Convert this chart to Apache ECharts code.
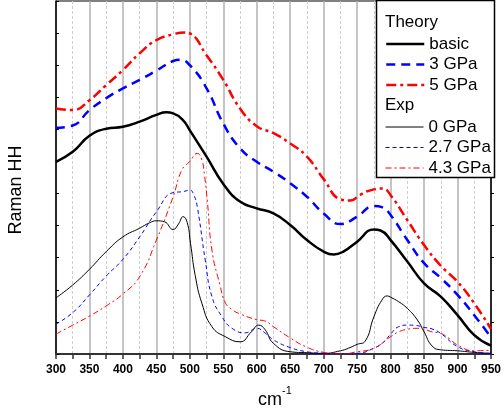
<!DOCTYPE html>
<html>
<head>
<meta charset="utf-8">
<script src="https://cdn.jsdelivr.net/npm/echarts@6/dist/echarts.min.js"></script>
<style>
  html, body { margin: 0; padding: 0; background: #fff; }
  #chart { width: 504px; height: 410px; }
</style>
</head>
<body>
<div id="chart"></div>
<script>
// Raman shift (cm^-1) sample positions and intensities for each spectrum

// Theory, basic
const basicX = [300, 325, 350, 375, 400, 425, 450, 465, 475, 490, 500, 525, 550, 575, 600, 625, 650, 675, 700, 715, 730, 750, 775, 785, 800, 825, 850, 875, 900, 925, 950];
const basicY = [5.99, 6.3, 6.8, 7.02, 7.08, 7.24, 7.45, 7.53, 7.5, 7.28, 6.97, 6.15, 5.3, 4.75, 4.54, 4.38, 4.02, 3.55, 3.19, 3.1, 3.2, 3.5, 3.88, 3.85, 3.55, 2.88, 2.2, 1.79, 1.21, 0.59, 0.26];

// Theory, 3 GPa
const t3X = [300, 325, 350, 375, 400, 425, 450, 475, 485, 500, 525, 550, 575, 600, 625, 650, 675, 700, 725, 750, 775, 788, 800, 825, 850, 875, 900, 925, 950];
const t3Y = [7.05, 7.12, 7.6, 7.97, 8.28, 8.54, 8.83, 9.13, 9.17, 9.0, 8.28, 7.18, 6.41, 5.99, 5.68, 5.32, 4.9, 4.38, 4.05, 4.28, 4.61, 4.57, 4.33, 3.55, 2.83, 2.37, 1.84, 1.21, 0.52];

// Theory, 5 GPa
const t5X = [300, 325, 350, 375, 400, 425, 450, 475, 492, 500, 525, 550, 575, 600, 625, 650, 675, 700, 725, 740, 755, 775, 788, 800, 825, 850, 875, 900, 925, 950];
const t5Y = [7.65, 7.6, 7.91, 8.38, 8.85, 9.37, 9.78, 9.96, 10.02, 9.99, 9.31, 8.54, 7.65, 7.1, 6.88, 6.56, 6.15, 5.45, 4.82, 4.78, 4.97, 5.13, 5.16, 4.95, 4.17, 3.4, 2.75, 2.25, 1.58, 0.78];

// Experiment, 0 GPa
const e0X = [300, 325, 350, 375, 400, 425, 440, 450, 462, 475, 483, 490, 496, 501, 508, 518, 533, 553, 575, 592, 603, 612, 625, 650, 675, 700, 725, 737, 750, 762, 775, 787, 795, 800, 812, 825, 840, 850, 862, 875, 900, 925, 950];
const e0Y = [1.75, 2.15, 2.64, 3.19, 3.65, 3.92, 4.09, 4.15, 4.12, 3.88, 4.05, 4.28, 4.1, 3.45, 2.45, 1.58, 0.85, 0.54, 0.38, 0.69, 0.9, 0.77, 0.33, 0.07, 0.04, 0.02, 0.1, 0.18, 0.3, 0.4, 1.16, 1.68, 1.81, 1.77, 1.63, 1.42, 1.06, 0.69, 0.25, 0.13, 0.1, 0.05, 0.02];

// Experiment, 2.7 GPa
const e27X = [300, 325, 350, 375, 400, 425, 450, 475, 490, 500, 506, 511, 523, 533, 548, 563, 583, 600, 612, 625, 650, 675, 700, 725, 750, 775, 790, 800, 812, 825, 837, 850, 862, 875, 900, 925, 950];
const e27Y = [0.93, 1.29, 1.84, 2.43, 2.95, 3.65, 4.43, 5.03, 5.06, 5.11, 4.95, 4.6, 2.93, 1.79, 1.16, 0.8, 0.66, 0.8, 0.66, 0.44, 0.2, 0.07, 0.02, 0.0, 0.02, 0.18, 0.38, 0.62, 0.85, 0.9, 0.89, 0.83, 0.78, 0.64, 0.23, 0.07, 0.02];

// Experiment, 4.3 GPa
const e43X = [300, 325, 350, 375, 400, 425, 450, 475, 488, 500, 511, 518, 522, 526, 533, 545, 553, 562, 575, 600, 612, 625, 650, 675, 700, 725, 750, 775, 800, 812, 825, 840, 850, 862, 875, 887, 900, 925, 950];
const e43Y = [0.62, 0.9, 1.18, 1.5, 1.87, 2.41, 3.55, 4.9, 5.73, 6.0, 6.25, 6.04, 5.55, 4.8, 3.24, 2.15, 1.6, 1.4, 1.25, 1.07, 1.03, 0.85, 0.5, 0.21, 0.05, 0.0, 0.07, 0.18, 0.54, 0.69, 0.77, 0.8, 0.77, 0.69, 0.64, 0.49, 0.28, 0.1, 0.12];

// Axis settings
const xMin = 300, xMax = 950, xStep = 50;
const yMin = 0, yMax = 11, yStep = 1;

const theoryNames = ['basic', '3 GPa', '5 GPa'];
const expNames = ['0 GPa', '2.7 GPa', '4.3 GPa'];

const FONT = '"Liberation Sans", Arial, sans-serif';

// Line look for each series name
const styles = {
  'basic':   { color: '#000000', width: 2.5, dash: 'solid' },
  '3 GPa':   { color: '#0000ff', width: 2.5, dash: [9, 6] },
  '5 GPa':   { color: '#ff0000', width: 2.5, dash: [10, 4, 3, 4] },
  '0 GPa':   { color: '#000000', width: 1, dash: 'solid' },
  '2.7 GPa': { color: '#0000ff', width: 1, dash: [4, 3] },
  '4.3 GPa': { color: '#ff0000', width: 1, dash: [6, 3, 2, 3] }
};

function pairs(xs, ys) {
  return xs.map((x, i) => [x, ys[i]]);
}

function lineSeries(name, xs, ys, z) {
  const s = styles[name];
  return {
    name: name,
    type: 'line',
    data: pairs(xs, ys),
    smooth: 0.5,
    symbol: 'none',
    silent: true,
    z: z,
    lineStyle: { color: s.color, width: s.width, type: s.dash, cap: 'butt' },
    itemStyle: { color: s.color, opacity: 0 }
  };
}

function legendBlock(names, top) {
  return {
    data: names.map(n => ({
      name: n,
      lineStyle: { color: styles[n].color, width: styles[n].width, type: styles[n].dash }
    })),
    orient: 'vertical', left: 385, top: top, padding: 0,
    itemWidth: 38, itemHeight: 14, itemGap: 0.5,
    selectedMode: false, z: 20,
    itemStyle: { opacity: 0, borderWidth: 0 },
    textStyle: { color: '#000', fontSize: 17, fontFamily: FONT, lineHeight: 20 }
  };
}

const chart = echarts.init(document.getElementById('chart'), null, { renderer: 'canvas' });

const option = {
  animation: false,
  backgroundColor: '#fff',
  grid: {
    left: 56, right: 10, top: 1, bottom: 56,
    show: true, borderColor: '#000', borderWidth: 1, backgroundColor: 'transparent'
  },
  xAxis: {
    type: 'value',
    min: xMin, max: xMax, interval: xStep,
    axisLine: { show: true, onZero: false, lineStyle: { color: '#333', width: 2 } },
    axisTick: { show: true, inside: false, length: 5, lineStyle: { color: '#333', width: 1.5 } },
    minorTick: { show: true, splitNumber: 2, length: 5, lineStyle: { color: '#333', width: 1.5 } },
    axisLabel: { color: '#000', fontSize: 12, fontWeight: 'bold', fontFamily: FONT, margin: 10 },
    splitLine: { show: true, lineStyle: { color: '#b0b0b0', width: 1.5 } },
    minorSplitLine: { show: true, lineStyle: { color: '#cfcfcf', width: 1, type: [3, 2] } }
  },
  yAxis: [
    {
      type: 'value', position: 'left',
      min: yMin, max: yMax, interval: yStep,
      axisLine: { show: true, lineStyle: { color: '#000', width: 1.5 } },
      axisTick: { show: true, inside: true, length: 3, lineStyle: { color: '#000', width: 1 } },
      axisLabel: { show: false },
      splitLine: { show: false }
    },
    {
      type: 'value', position: 'right',
      min: yMin, max: yMax, interval: yStep,
      axisLine: { show: true, lineStyle: { color: '#000', width: 1.5 } },
      axisTick: { show: true, inside: false, length: 3, lineStyle: { color: '#000', width: 1 } },
      axisLabel: { show: false },
      splitLine: { show: false }
    }
  ],
  legend: [legendBlock(theoryNames, 34), legendBlock(expNames, 117)],
  graphic: [
    {
      type: 'rect', z: 15,
      shape: { x: 376.5, y: 0.5, width: 118, height: 177 },
      style: { fill: '#fff', stroke: '#000', lineWidth: 1.5 }
    },
    {
      type: 'text', z: 21, left: 385, top: 14,
      style: { text: 'Theory', fill: '#000', font: '17px ' + FONT }
    },
    {
      type: 'text', z: 21, left: 385, top: 97,
      style: { text: 'Exp', fill: '#000', font: '17px ' + FONT }
    },
    {
      type: 'text', z: 21,
      x: 16, y: 190, rotation: Math.PI / 2,
      style: { text: 'Raman HH', fill: '#000', font: '18px ' + FONT, align: 'center', verticalAlign: 'middle' }
    },
    {
      type: 'text', z: 21,
      x: 258, y: 400,
      style: { text: 'cm', fill: '#000', font: '18px ' + FONT, align: 'left', verticalAlign: 'middle' }
    },
    {
      type: 'text', z: 21,
      x: 282, y: 391,
      style: { text: '-1', fill: '#000', font: '11px ' + FONT, align: 'left', verticalAlign: 'middle' }
    }
  ],
  series: [
    lineSeries('0 GPa', e0X, e0Y, 3),
    lineSeries('2.7 GPa', e27X, e27Y, 3),
    lineSeries('4.3 GPa', e43X, e43Y, 3),
    lineSeries('basic', basicX, basicY, 4),
    lineSeries('3 GPa', t3X, t3Y, 4),
    lineSeries('5 GPa', t5X, t5Y, 4)
  ]
};

chart.setOption(option);
</script>
</body>
</html>
